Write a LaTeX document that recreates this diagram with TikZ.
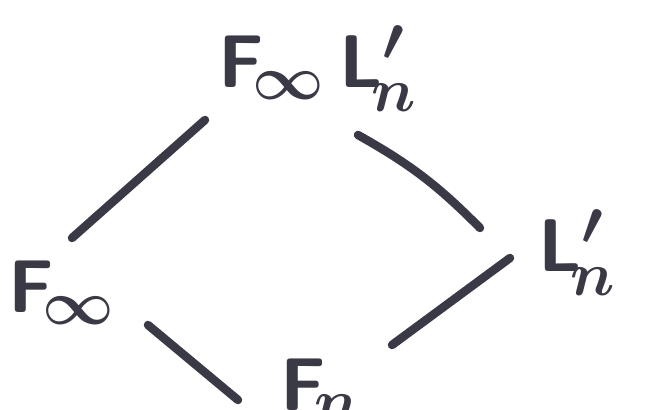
\documentclass[tikz,border=0pt]{standalone}
\definecolor{ink}{HTML}{3A3A46}
\tikzset{
  lbl/.style={anchor=base west, inner sep=0pt, text=ink, scale=3, font=\Huge\boldmath},
  edge/.style={draw=ink, line width=8.5pt, line cap=round}
}
\begin{document}
\begin{tikzpicture}[x=1pt,y=1pt]
\useasboundingbox (0,0) rectangle (646,410);
% nodes (y = 410 - pixel row)
\node[lbl] (top)   at (218,322) {$\mathsf{F}_{\!\infty}\,\mathsf{L}'_{\!n}$};
\node[lbl] (left)  at (8,97)    {$\mathsf{F}_{\!\infty}$};
\node[lbl] (right) at (538,138) {$\mathsf{L}'_{\!n}$};
\node[lbl] (bot)   at (280,-1)  {$\mathsf{F}_{\!n}$};
% connector ends
\coordinate (tl1) at (205,290); \coordinate (tl2) at (72,172);
\coordinate (tr1) at (358,275); \coordinate (tr2) at (480,182);
\coordinate (br1) at (510,152); \coordinate (br2) at (392,65);
\coordinate (bl1) at (148,85);  \coordinate (bl2) at (238,10);
\draw[edge] (tl1) -- (tl2);
\draw[edge] (tr1) to[bend left=8] (tr2);
\draw[edge] (br1) -- (br2);
\draw[edge] (bl1) -- (bl2);
\end{tikzpicture}
\end{document}
